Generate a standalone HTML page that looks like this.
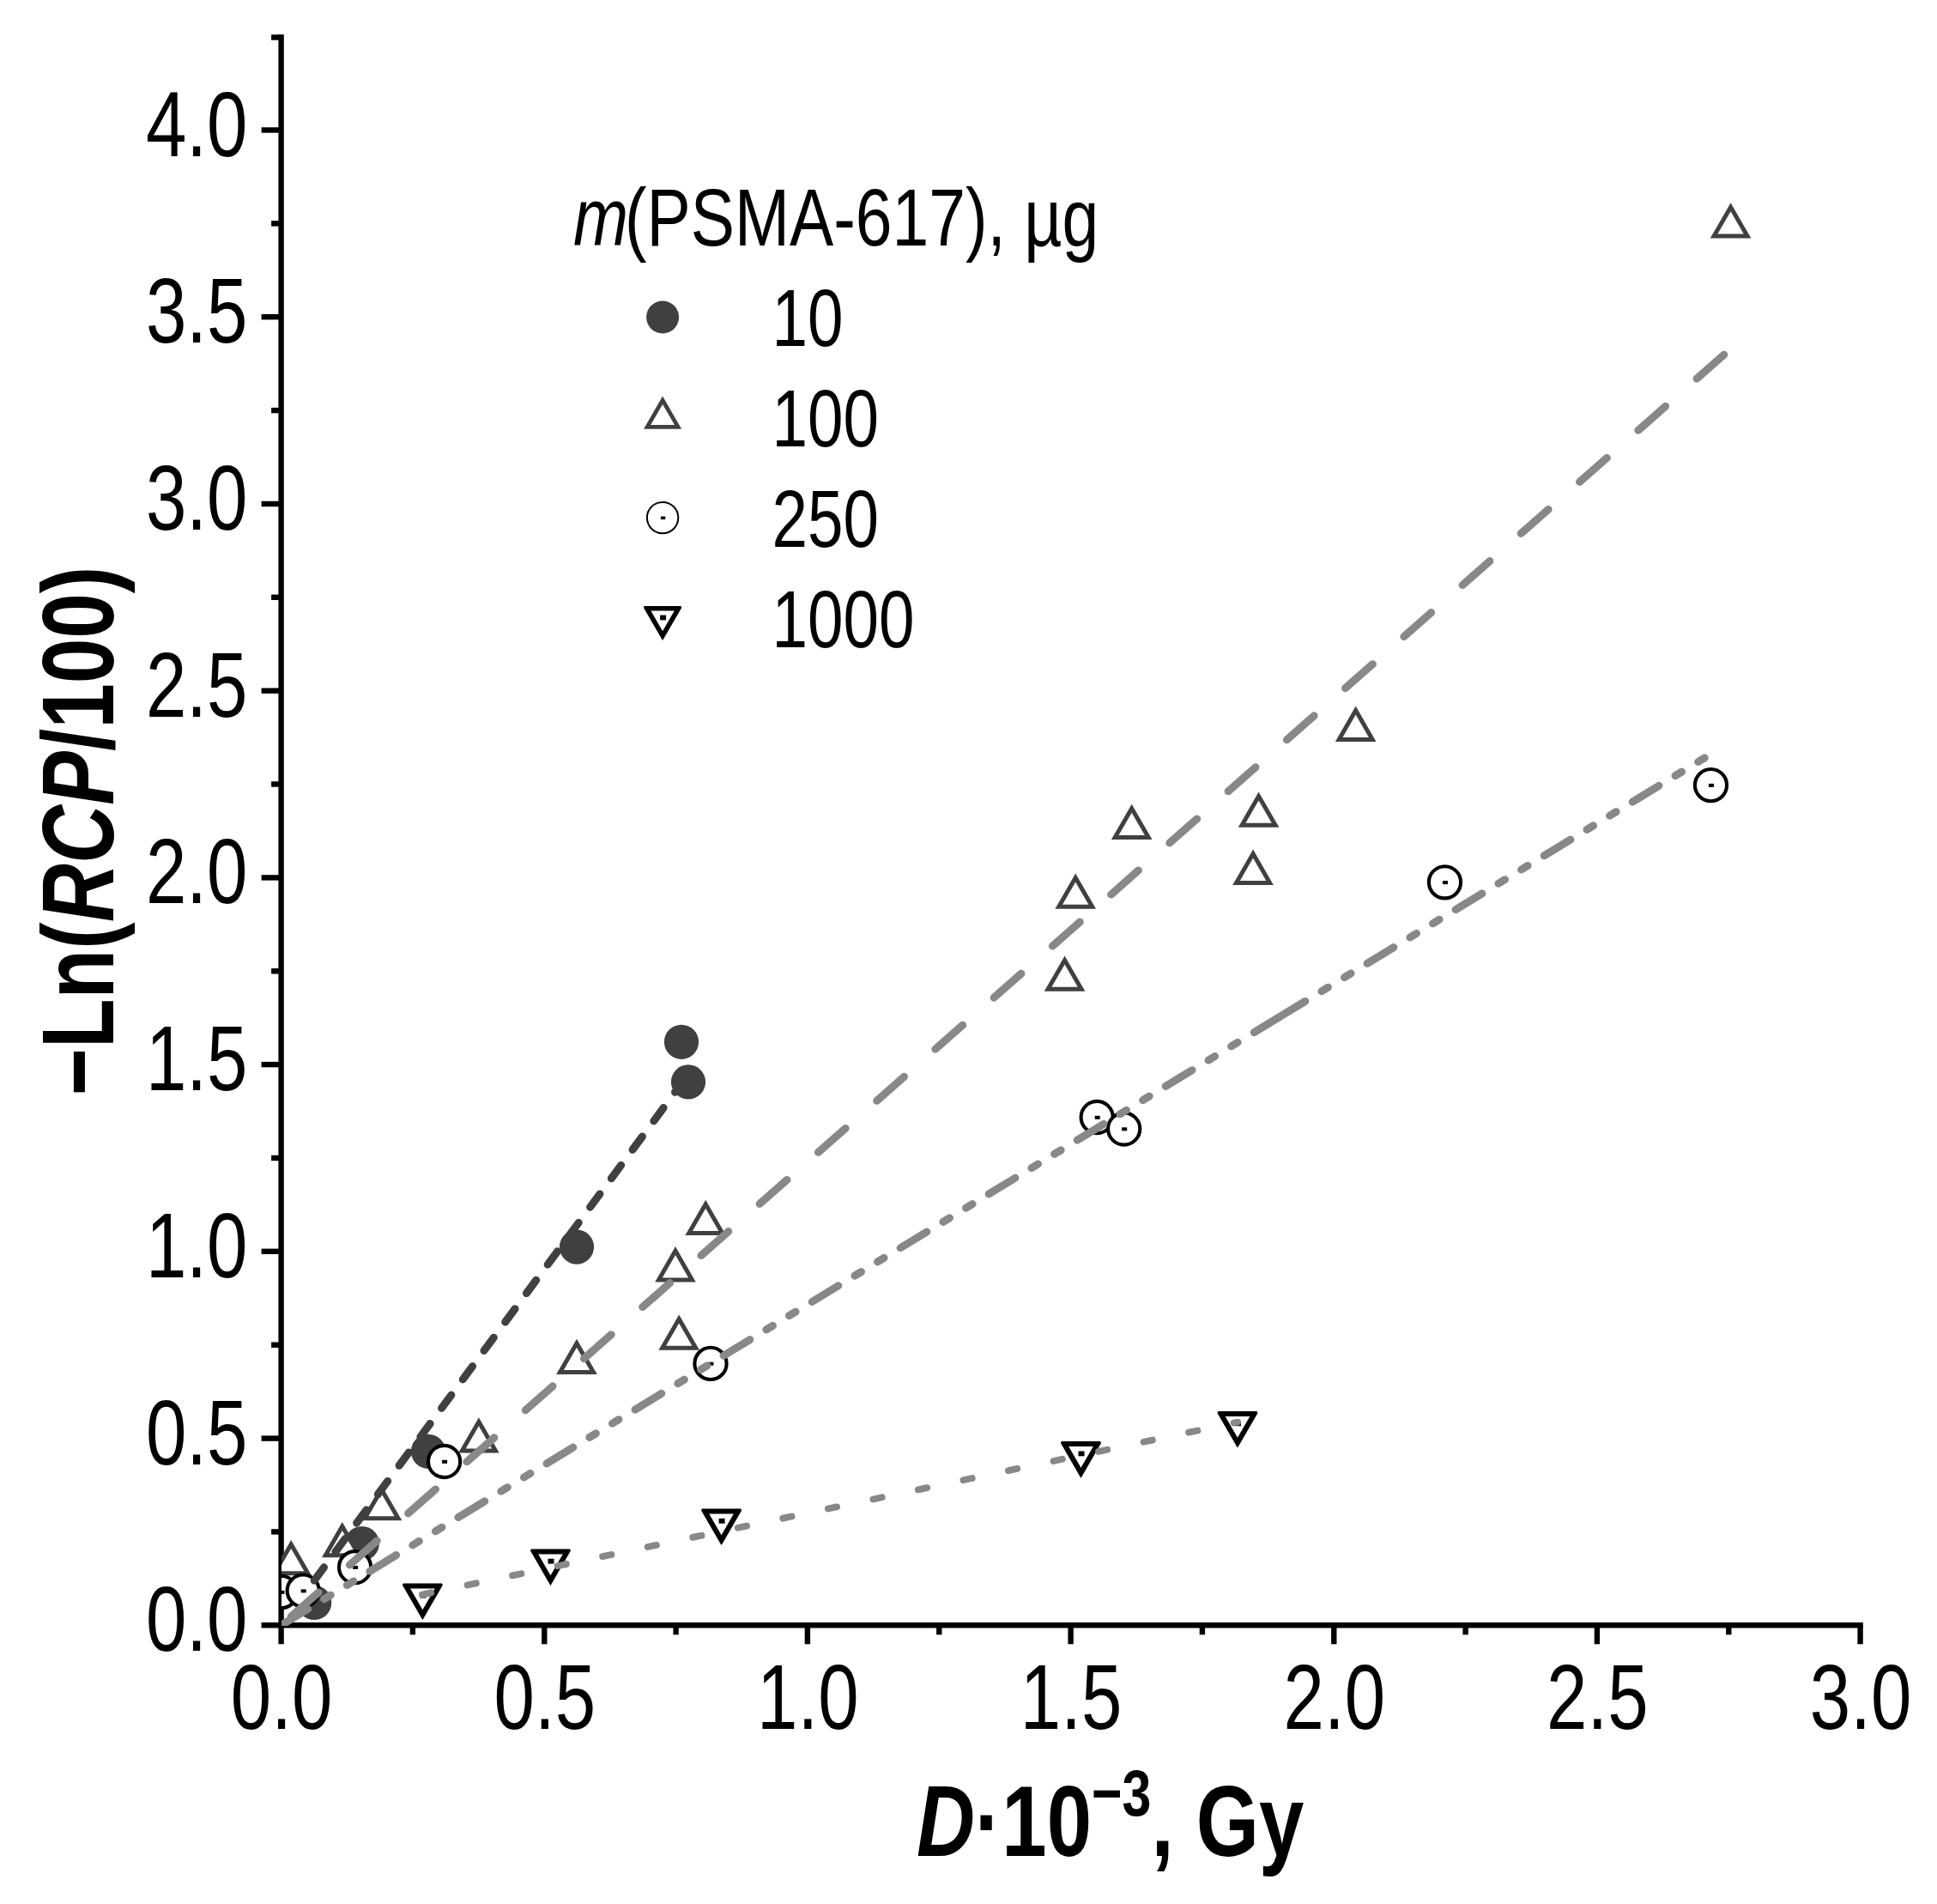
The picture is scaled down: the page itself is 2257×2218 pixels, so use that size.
<!DOCTYPE html>
<html lang="en"><head><meta charset="utf-8"><title>-Ln(RCP/100) vs D</title>
<style>html,body{margin:0;padding:0;background:#fff}svg{display:block}text{font-family:"Liberation Sans",Arial,Helvetica,sans-serif;fill:#000}.tk{font-size:107.4px}.lg{font-size:95.3px}.tt{font-weight:bold}.ty{font-size:119.3px}.tx{font-size:117.4px}</style></head><body>
<svg width="2257" height="2218" viewBox="0 0 2257 2218">
<rect width="2257" height="2218" fill="#fff"/>
<defs><clipPath id="pc"><rect x="327.9" y="0" width="1930" height="1894"/></clipPath></defs>
<g id="axes" stroke="#000" stroke-width="6.4" fill="none">
<path d="M327.6 40.3V1915.3"/>
<path d="M304.6 1893.3H2170.8"/>
<path d="M304.6 1675.6H327.6"/>
<path d="M304.6 1457.8H327.6"/>
<path d="M304.6 1240.1H327.6"/>
<path d="M304.6 1022.4H327.6"/>
<path d="M304.6 804.7H327.6"/>
<path d="M304.6 587.0H327.6"/>
<path d="M304.6 369.2H327.6"/>
<path d="M304.6 151.5H327.6"/>
<path d="M316.1 1784.4H327.6"/>
<path d="M316.1 1566.7H327.6"/>
<path d="M316.1 1349.0H327.6"/>
<path d="M316.1 1131.3H327.6"/>
<path d="M316.1 913.5H327.6"/>
<path d="M316.1 695.8H327.6"/>
<path d="M316.1 478.1H327.6"/>
<path d="M316.1 260.4H327.6"/>
<path d="M316.1 43.5H327.6"/>
<path d="M634.3 1893.3V1915.3"/>
<path d="M940.9 1893.3V1915.3"/>
<path d="M1247.6 1893.3V1915.3"/>
<path d="M1554.3 1893.3V1915.3"/>
<path d="M1860.9 1893.3V1915.3"/>
<path d="M2167.6 1893.3V1915.3"/>
<path d="M480.9 1893.3V1904.3"/>
<path d="M787.6 1893.3V1904.3"/>
<path d="M1094.3 1893.3V1904.3"/>
<path d="M1400.9 1893.3V1904.3"/>
<path d="M1707.6 1893.3V1904.3"/>
<path d="M2014.3 1893.3V1904.3"/>
</g>
<g id="plot" clip-path="url(#pc)">
<circle cx="366.2" cy="1867.0" r="20.1" fill="#404040"/>
<circle cx="421.8" cy="1798.0" r="20.1" fill="#404040"/>
<circle cx="499.0" cy="1690.8" r="20.1" fill="#404040"/>
<circle cx="672.0" cy="1452.6" r="20.1" fill="#404040"/>
<circle cx="794.0" cy="1213.8" r="20.1" fill="#404040"/>
<circle cx="802.0" cy="1260.4" r="20.1" fill="#404040"/>
<path d="M319.7 1832.7L358.7 1832.7L339.2 1798.9Z" fill="#fff" stroke="#404040" stroke-width="5.0" stroke-linejoin="miter"/>
<path d="M379.3 1811.8L418.3 1811.8L398.8 1778.0Z" fill="#fff" stroke="#404040" stroke-width="5.0" stroke-linejoin="miter"/>
<path d="M425.0 1768.7L464.0 1768.7L444.5 1734.9Z" fill="#fff" stroke="#404040" stroke-width="5.0" stroke-linejoin="miter"/>
<path d="M538.4 1690.0L577.4 1690.0L557.9 1656.2Z" fill="#fff" stroke="#404040" stroke-width="5.0" stroke-linejoin="miter"/>
<path d="M652.5 1598.5L691.5 1598.5L672.0 1564.7Z" fill="#fff" stroke="#404040" stroke-width="5.0" stroke-linejoin="miter"/>
<path d="M771.7 1570.2L810.7 1570.2L791.2 1536.4Z" fill="#fff" stroke="#404040" stroke-width="5.0" stroke-linejoin="miter"/>
<path d="M767.5 1490.9L806.5 1490.9L787.0 1457.1Z" fill="#fff" stroke="#404040" stroke-width="5.0" stroke-linejoin="miter"/>
<path d="M802.7 1436.6L841.7 1436.6L822.2 1402.8Z" fill="#fff" stroke="#404040" stroke-width="5.0" stroke-linejoin="miter"/>
<path d="M1221.1 1152.3L1260.1 1152.3L1240.6 1118.5Z" fill="#fff" stroke="#404040" stroke-width="5.0" stroke-linejoin="miter"/>
<path d="M1233.7 1056.2L1272.7 1056.2L1253.2 1022.4Z" fill="#fff" stroke="#404040" stroke-width="5.0" stroke-linejoin="miter"/>
<path d="M1299.2 975.5L1338.2 975.5L1318.7 941.7Z" fill="#fff" stroke="#404040" stroke-width="5.0" stroke-linejoin="miter"/>
<path d="M1447.1 961.3L1486.1 961.3L1466.6 927.5Z" fill="#fff" stroke="#404040" stroke-width="5.0" stroke-linejoin="miter"/>
<path d="M1440.6 1028.4L1479.6 1028.4L1460.1 994.6Z" fill="#fff" stroke="#404040" stroke-width="5.0" stroke-linejoin="miter"/>
<path d="M1560.2 861.4L1599.2 861.4L1579.7 827.6Z" fill="#fff" stroke="#404040" stroke-width="5.0" stroke-linejoin="miter"/>
<path d="M1997.1 275.1L2036.1 275.1L2016.6 241.3Z" fill="#fff" stroke="#404040" stroke-width="5.0" stroke-linejoin="miter"/>
<circle cx="327.9" cy="1854.6" r="18.6" fill="#fff" stroke="#000" stroke-width="4.1"/><rect x="325.4" y="1852.9" width="6" height="4" fill="#000"/>
<circle cx="353.2" cy="1853.1" r="18.6" fill="#fff" stroke="#000" stroke-width="4.1"/><rect x="350.7" y="1851.4" width="6" height="4" fill="#000"/>
<circle cx="413.6" cy="1825.7" r="18.6" fill="#fff" stroke="#000" stroke-width="4.1"/><rect x="411.1" y="1824.0" width="6" height="4" fill="#000"/>
<circle cx="517.6" cy="1702.5" r="18.6" fill="#fff" stroke="#000" stroke-width="4.1"/><rect x="515.1" y="1700.8" width="6" height="4" fill="#000"/>
<circle cx="828.0" cy="1588.4" r="18.6" fill="#fff" stroke="#000" stroke-width="4.1"/><rect x="825.5" y="1586.7" width="6" height="4" fill="#000"/>
<circle cx="1278.2" cy="1301.5" r="18.6" fill="#fff" stroke="#000" stroke-width="4.1"/><rect x="1275.7" y="1299.8" width="6" height="4" fill="#000"/>
<circle cx="1309.7" cy="1315.0" r="18.6" fill="#fff" stroke="#000" stroke-width="4.1"/><rect x="1307.2" y="1313.3" width="6" height="4" fill="#000"/>
<circle cx="1683.5" cy="1027.8" r="18.6" fill="#fff" stroke="#000" stroke-width="4.1"/><rect x="1681.0" y="1026.1" width="6" height="4" fill="#000"/>
<circle cx="1993.5" cy="914.6" r="18.6" fill="#fff" stroke="#000" stroke-width="4.1"/><rect x="1991.0" y="912.9" width="6" height="4" fill="#000"/>
<path d="M468.80 1846.30L469.90 1844.40L514.90 1844.40L516.00 1846.30L492.63 1886.77L492.17 1886.77Z" fill="#000"/><path d="M478.10 1850.40L492.40 1875.17L506.70 1850.40Z" fill="#fff"/><rect x="489.4" y="1855.8" width="7" height="5.8" fill="#000"/>
<path d="M617.90 1806.35L619.00 1804.45L664.00 1804.45L665.10 1806.35L641.73 1846.82L641.27 1846.82Z" fill="#000"/><path d="M627.20 1810.45L641.50 1835.22L655.80 1810.45Z" fill="#fff"/><rect x="638.5" y="1815.8" width="7" height="5.8" fill="#000"/>
<path d="M817.00 1759.40L818.10 1757.50L863.10 1757.50L864.20 1759.40L840.83 1799.87L840.37 1799.87Z" fill="#000"/><path d="M826.30 1763.50L840.60 1788.27L854.90 1763.50Z" fill="#fff"/><rect x="837.6" y="1768.9" width="7" height="5.8" fill="#000"/>
<path d="M1235.90 1681.00L1237.00 1679.10L1282.00 1679.10L1283.10 1681.00L1259.73 1721.47L1259.27 1721.47Z" fill="#000"/><path d="M1245.20 1685.10L1259.50 1709.87L1273.80 1685.10Z" fill="#fff"/><rect x="1256.5" y="1690.5" width="7" height="5.8" fill="#000"/>
<path d="M1418.40 1645.90L1419.50 1644.00L1464.50 1644.00L1465.60 1645.90L1442.23 1686.37L1441.77 1686.37Z" fill="#000"/><path d="M1427.70 1650.00L1442.00 1674.77L1456.30 1650.00Z" fill="#fff"/><rect x="1439.0" y="1655.4" width="7" height="5.8" fill="#000"/>
<path d="M366.20 1841.08L802.00 1251.45" fill="none" stroke="#404040" stroke-width="9.0" stroke-linecap="round" stroke-dasharray="19 22.6" stroke-dashoffset="0"/>
<path d="M339.20 1883.09L2011.40 411.00" fill="none" stroke="#888888" stroke-width="9.0" stroke-linecap="round" stroke-dasharray="42.4 48.52" stroke-dashoffset="0"/>
<path d="M327.90 1893.12L1490.07 1185.12" fill="none" stroke="#888888" stroke-width="9.0" stroke-linecap="round" stroke-dasharray="36 22.35 8.8 22.35 8.8 22.35" stroke-dashoffset="0"/>
<path d="M1490.07 1185.12L1993.50 878.43" fill="none" stroke="#888888" stroke-width="9.0" stroke-linecap="round" stroke-dasharray="36 22.35 8.8 22.35 8.8 22.35" stroke-dashoffset="0"/>
<path d="M492.00 1857.60L1442.00 1656.60" fill="none" stroke="#888888" stroke-width="7.8" stroke-linecap="round" stroke-dasharray="10.5 43.2" stroke-dashoffset="0"/>
</g>
<g id="ticklabels">
<text class="tk" transform="translate(288.5,1923.3) scale(0.794,1)" text-anchor="end">0.0</text>
<text class="tk" transform="translate(288.5,1705.6) scale(0.794,1)" text-anchor="end">0.5</text>
<text class="tk" transform="translate(288.5,1487.8) scale(0.794,1)" text-anchor="end">1.0</text>
<text class="tk" transform="translate(288.5,1270.1) scale(0.794,1)" text-anchor="end">1.5</text>
<text class="tk" transform="translate(288.5,1052.4) scale(0.794,1)" text-anchor="end">2.0</text>
<text class="tk" transform="translate(288.5,834.7) scale(0.794,1)" text-anchor="end">2.5</text>
<text class="tk" transform="translate(288.5,617.0) scale(0.794,1)" text-anchor="end">3.0</text>
<text class="tk" transform="translate(288.5,399.2) scale(0.794,1)" text-anchor="end">3.5</text>
<text class="tk" transform="translate(288.5,181.5) scale(0.794,1)" text-anchor="end">4.0</text>
<text class="tk" transform="translate(328.1,2014.0) scale(0.794,1)" text-anchor="middle">0.0</text>
<text class="tk" transform="translate(634.8,2014.0) scale(0.794,1)" text-anchor="middle">0.5</text>
<text class="tk" transform="translate(941.4,2014.0) scale(0.794,1)" text-anchor="middle">1.0</text>
<text class="tk" transform="translate(1248.1,2014.0) scale(0.794,1)" text-anchor="middle">1.5</text>
<text class="tk" transform="translate(1554.8,2014.0) scale(0.794,1)" text-anchor="middle">2.0</text>
<text class="tk" transform="translate(1861.4,2014.0) scale(0.794,1)" text-anchor="middle">2.5</text>
<text class="tk" transform="translate(2168.1,2014.0) scale(0.794,1)" text-anchor="middle">3.0</text>
</g>
<text class="tt ty" transform="translate(131.8,968.0) rotate(-90) scale(0.7914,1)" text-anchor="middle">−Ln(<tspan font-style="italic">RCP</tspan>/100)</text>
<text class="tt tx" transform="translate(1068.0,2161.7) scale(0.8018,1)" text-anchor="start"><tspan font-style="italic">D</tspan>·10<tspan font-size="76px" dy="-47">−3</tspan><tspan dy="47">, Gy</tspan></text>
<g id="legend">
<text class="lg" transform="translate(668.0,285.6) scale(0.806,1)" text-anchor="start"><tspan font-style="italic">m</tspan><tspan dx="-5">(PSMA-617), µg</tspan></text>
<circle cx="772.1" cy="369.5" r="19" fill="#404040"/>
<path d="M754.1 497.4L790.1 497.4L772.1 466.3Z" fill="#fff" stroke="#404040" stroke-width="4.7" stroke-linejoin="miter"/>
<circle cx="772.1" cy="603.1" r="18.2" fill="#fff" stroke="#000" stroke-width="2.0"/><rect x="769.9" y="601.6" width="5.4" height="3.5" fill="#000"/>
<path d="M749.86 707.70L750.78 706.10L793.42 706.10L794.34 707.70L772.33 745.82L771.87 745.82Z" fill="#000"/><path d="M758.46 711.60L772.10 735.22L785.74 711.60Z" fill="#fff"/><rect x="769.1" y="716.6" width="7" height="5.8" fill="#000"/>
<text class="lg" transform="translate(899.5,403.4) scale(0.783,1)" text-anchor="start">10</text>
<text class="lg" transform="translate(899.5,520.2) scale(0.783,1)" text-anchor="start">100</text>
<text class="lg" transform="translate(899.5,637.0) scale(0.783,1)" text-anchor="start">250</text>
<text class="lg" transform="translate(899.5,753.8) scale(0.783,1)" text-anchor="start">1000</text>
</g>
</svg></body></html>
